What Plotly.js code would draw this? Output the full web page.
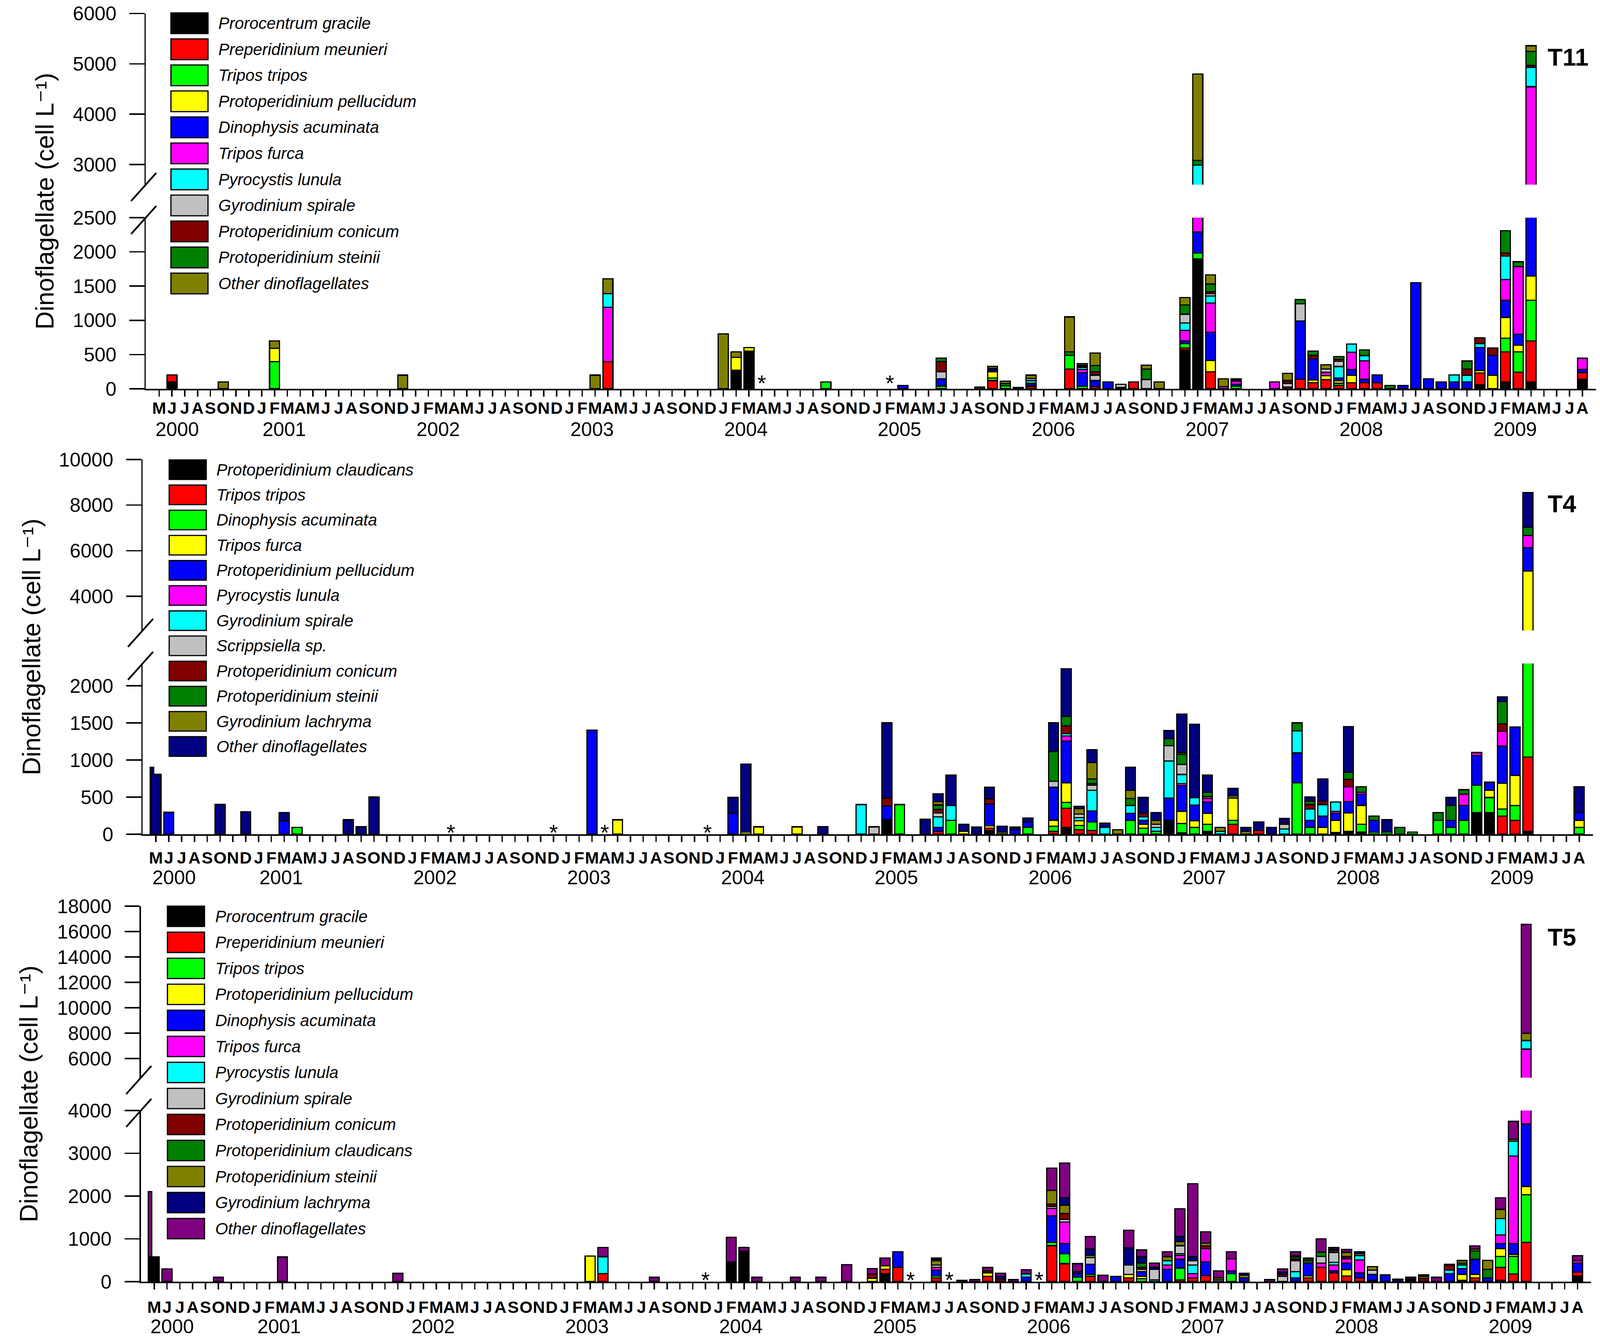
<!DOCTYPE html>
<html>
<head>
<meta charset="utf-8">
<script src="https://cdn.plot.ly/plotly-3.0.1.min.js"></script>
<style>
html,body{margin:0;padding:0;background:#ffffff;overflow:hidden;}
#chart{position:absolute;left:0;top:0;}
</style>
</head>
<body>
<div id="chart"></div>
<script>
// ---------------- DATA ----------------
// month index 0 = May 2000 ... 111 = Aug 2009
const monthInitials = ['J','F','M','A','M','J','J','A','S','O','N','D'];
const firstMonth = 4; // May
const monthCount = 112;
const yearLabels = ['2000','2001','2002','2003','2004','2005','2006','2007','2008','2009'];

// ---- T11 ----
const t11Species = ['Prorocentrum gracile','Preperidinium meunieri','Tripos tripos','Protoperidinium pellucidum','Dinophysis acuminata','Tripos furca','Pyrocystis lunula','Gyrodinium spirale','Protoperidinium conicum','Protoperidinium steinii','Other dinoflagellates'];
const t11Months = [1,5,9,19,34,35,44,45,46,52, 58,61,64,65,66,67,68,71,72,73, 74,75,76,77,78,80,81,82,83,84, 87,88,89,90,91,92,93,94,95,96, 97,98,99,100,101,102,103,104,105,106, 107,111];
const t11Gracile   = [100,0,0,0,0,0,0,270,550,0, 0,0,0,0,0,0,0,0,0,0, 0,0,0,0,0,565,1895,0,0,0, 0,0,0,0,0,0,0,0,0,0, 0,0,0,0,0,0,60,0,100,0, 100,140];
const t11Meunieri  = [105,0,0,0,0,395,0,0,0,0, 0,0,0,120,0,0,30,290,0,30, 0,0,100,0,0,30,0,250,0,0, 0,25,140,90,135,50,90,90,90,0, 0,0,0,0,0,0,170,0,440,245, 600,95];
const t11Tripos    = [0,0,395,0,0,0,0,0,0,100, 0,40,0,35,45,0,0,200,35,0, 0,0,0,0,0,65,90,0,0,35, 0,0,0,0,0,30,0,0,0,0, 0,0,0,0,0,0,0,0,200,295, 595,0];
const t11Pellucidum= [0,0,195,0,0,0,0,190,50,0, 0,0,0,95,0,0,20,0,0,0, 0,0,0,0,0,0,0,165,0,0, 0,0,0,40,55,35,105,0,0,0, 0,0,0,0,0,0,35,195,300,95, 350,0];
const t11Dinophysis= [0,0,0,0,0,0,0,0,0,0, 50,105,0,30,0,0,30,0,200,90, 100,0,0,0,0,40,305,410,0,30, 0,0,850,305,0,40,90,50,115,0, 50,1550,145,100,100,100,335,295,250,160, 905,50];
const t11Furca     = [0,0,0,0,0,795,0,0,0,0, 0,0,0,0,0,0,0,0,50,0, 0,0,0,0,0,155,260,430,30,45, 100,0,0,0,50,0,250,270,0,0, 0,0,0,0,0,0,0,0,305,990, 1995,160];
const t11Lunula    = [0,0,0,0,0,200,0,0,0,0, 0,0,0,0,0,0,40,0,25,0, 0,20,0,0,0,105,435,100,0,0, 0,0,0,0,0,170,120,75,0,0, 0,0,0,0,105,95,60,0,345,0, 385,0];
const t11Spirale   = [0,0,0,0,0,0,0,0,0,0, 0,105,0,0,0,0,30,0,15,80, 0,45,0,135,0,130,0,35,0,20, 0,55,250,0,50,75,0,0,0,0, 0,0,0,0,0,0,0,0,0,0, 0,0];
const t11Conicum   = [0,0,0,0,0,0,0,0,0,0, 0,145,0,20,0,0,0,0,10,50, 0,0,0,0,0,0,0,30,0,0, 0,40,0,50,0,30,0,0,0,0, 0,0,0,0,0,95,85,105,45,0, 40,0];
const t11Steinii   = [0,0,0,0,0,0,0,0,0,0, 0,55,0,0,30,0,0,50,10,90, 0,0,0,155,0,135,95,110,0,0, 0,0,65,65,0,40,0,85,0,50, 0,0,0,0,0,115,0,0,325,70, 275,0];
const t11Other     = [0,100,110,200,200,215,800,80,0,0, 0,0,25,30,35,20,50,510,25,180, 0,0,0,55,100,110,1720,135,115,15, 0,105,0,0,60,0,0,0,0,0, 0,0,0,0,0,0,0,0,0,0, 115,0];
const t11Missing = [47,57];

// ---- T4 ----
const t4Species = ['Protoperidinium claudicans','Tripos tripos','Dinophysis acuminata','Tripos furca','Protoperidinium pellucidum','Pyrocystis lunula','Gyrodinium spirale','Scrippsiella sp.','Protoperidinium conicum','Protoperidinium steinii','Gyrodinium lachryma','Other dinoflagellates'];
const t4Months = [0,1,5,7,10,11,15,16,17,34, 36,45,46,47,50,52,55,56,57,58, 60,61,62,63,64,65,66,67,68,70, 71,72,73,74,75,76,77,78,79,80, 81,82,83,84,85,86,87,88,89,90, 91,92,93,94,95,96,97,98,100,101, 102,103,104,105,106,107,111];
const t4Claudicans = [0,0,0,0,0,0,0,0,0,0, 0,0,0,0,0,0,0,0,195,0, 0,0,0,0,0,50,0,0,0,0, 90,0,0,0,0,0,0,0,185,0, 0,40,0,0,0,0,0,0,0,0, 0,25,40,30,0,0,0,0,0,0, 0,290,290,0,0,40,0];
const t4Tripos     = [0,0,0,0,0,0,0,0,0,0, 0,0,0,0,0,0,0,0,0,0, 0,40,0,0,0,30,0,0,0,40, 260,60,50,0,0,0,0,0,0,20, 0,0,0,135,0,50,0,0,0,0, 0,0,0,0,0,0,0,0,0,0, 0,0,0,245,185,1000,0];
const t4Dinophysis = [0,0,0,0,0,90,0,0,0,0, 0,0,0,0,0,0,0,0,0,400, 0,0,185,0,0,0,0,0,90,70, 80,60,115,0,0,185,80,40,0,125, 90,95,0,50,0,0,0,0,690,90, 0,0,0,105,30,30,0,30,185,90, 185,370,205,95,200,1360,90];
const t4Furca      = [0,0,0,0,0,0,0,0,0,0, 195,0,30,100,100,0,0,0,0,0, 0,0,0,40,0,35,0,0,0,75, 260,60,0,0,0,0,55,0,0,165, 90,145,0,300,0,0,0,0,0,0, 90,160,245,250,0,0,0,0,0,0, 0,0,95,345,405,2700,95];
const t4Pellucidum = [0,295,0,0,180,0,0,0,0,1400, 0,280,0,0,0,0,0,0,185,0, 0,50,0,0,0,290,0,60,75,450, 565,0,150,0,0,95,50,0,300,345, 210,155,0,0,0,0,0,0,405,95, 155,95,155,155,155,0,0,0,0,95, 200,400,110,500,655,1030,105];
const t4Lunula     = [0,0,0,0,0,0,0,0,0,0, 0,0,0,0,0,0,0,0,0,0, 0,0,0,0,0,0,0,0,0,0, 70,0,0,0,0,0,0,0,0,25, 0,45,0,0,0,0,0,0,0,0, 0,30,200,25,0,0,0,0,0,0, 155,40,0,200,0,540,0];
const t4Spirale    = [0,0,0,0,0,0,0,0,0,0, 0,0,0,0,0,0,400,0,0,0, 0,145,200,0,0,0,0,0,0,0, 30,45,275,90,0,105,50,50,500,125, 100,0,40,0,0,0,0,70,295,155, 155,125,0,0,0,0,0,0,0,0, 0,0,0,0,0,0,0];
const t4Scrippsiella=[0,0,0,0,0,0,0,0,0,0, 0,0,0,0,0,0,0,100,0,0, 0,50,0,0,0,0,0,0,0,80, 0,45,70,0,0,0,0,45,205,135, 0,25,0,0,0,0,0,65,0,0, 0,0,0,0,0,0,0,0,0,0, 0,0,0,0,0,0,0];
const t4Conicum    = [0,0,0,0,0,0,0,0,0,0, 0,0,0,0,0,0,0,0,105,0, 0,50,0,0,0,70,0,0,0,0, 105,0,20,0,0,0,45,0,0,0, 0,0,0,0,0,0,0,20,0,60, 45,0,100,0,0,0,0,0,0,0, 0,0,0,100,0,0,0];
const t4Steinii    = [0,0,0,0,0,0,0,0,0,0, 0,0,0,0,0,0,0,0,0,0, 0,60,0,0,0,0,0,0,0,400, 125,0,65,0,0,95,0,0,95,135, 0,60,0,0,0,0,0,0,110,45, 0,0,95,75,60,0,90,0,105,200, 60,0,0,300,0,350,0];
const t4Lachryma   = [0,0,0,0,0,0,0,0,0,0, 0,0,0,0,0,0,0,0,0,0, 0,45,0,0,0,0,30,0,0,0, 0,75,220,0,60,110,0,50,0,25, 0,0,50,35,40,0,0,0,0,0, 0,0,0,0,0,0,0,0,0,0, 0,0,0,0,0,0,0];
const t4Other      = [805,0,400,300,110,0,195,100,500,0, 0,215,915,0,0,100,0,0,1015,0, 200,105,410,95,95,160,80,35,55,385, 645,30,175,60,0,310,215,105,110,520, 990,230,0,100,50,115,90,60,0,55, 300,0,615,0,0,165,0,0,0,110, 0,0,0,65,0,1535,350];
const t4Missing = [23,31,35,43];
// an earlier (narrow) sample drawn just left of May 2000
const t4EarlyMonth = [-0.31];
const t4EarlyOther = [900];

// ---- T5 ----
const t5Species = ['Prorocentrum gracile','Preperidinium meunieri','Tripos tripos','Protoperidinium pellucidum','Dinophysis acuminata','Tripos furca','Pyrocystis lunula','Gyrodinium spirale','Protoperidinium conicum','Protoperidinium claudicans','Protoperidinium steinii','Gyrodinium lachryma','Other dinoflagellates'];
const t5Months = [0,1,5,10,19,34,35,39,45,46, 47,50,52,54,56,57,58,61,63,64, 65,66,67,68,70,71,72,73,74,75, 76,77,78,79,80,81,82,83,84,85, 87,88,89,90,91,92,93,94,95,96, 97,98,99,100,101,102,103,104,105,106, 107,111];
const t5Gracile    = [575,0,0,0,0,0,0,0,465,690, 0,0,0,0,0,185,0,0,0,0, 0,0,0,0,0,0,0,0,0,0, 0,0,0,0,0,0,0,0,0,0, 0,0,0,0,0,0,0,0,30,0, 0,0,0,0,0,35,0,0,35,0, 0,135];
const t5Meunieri   = [0,0,0,0,0,0,185,0,0,0, 0,0,0,0,0,100,335,85,0,0, 120,0,0,0,840,420,0,120,0,0, 85,0,0,0,40,85,140,0,0,0, 0,0,0,85,335,205,135,85,0,0, 0,0,0,0,0,0,85,0,300,175, 920,85];
const t5Tripos     = [0,0,0,0,0,0,0,0,0,0, 0,0,0,0,0,0,0,45,0,0, 0,0,0,0,80,235,105,45,0,0, 0,65,0,0,280,0,0,0,185,0, 0,0,0,0,0,0,0,0,0,0, 0,0,0,0,0,0,0,0,255,415, 1115,0];
const t5Pellucidum = [0,0,0,0,0,600,0,0,0,0, 0,0,0,0,80,85,0,0,0,0, 85,0,0,0,0,0,0,0,0,0, 80,55,0,0,0,0,0,0,0,0, 0,0,0,45,0,0,140,0,0,0, 0,0,0,0,0,135,80,0,185,45, 185,0];
const t5Dinophysis = [0,0,0,0,0,0,0,0,0,0, 0,0,0,0,0,0,365,140,0,0, 0,0,0,105,615,235,80,240,0,120, 0,115,0,285,200,0,325,0,65,85, 0,0,85,300,0,45,160,120,140,155, 0,0,0,0,185,135,355,85,115,255, 1460,215];
const t5Furca      = [0,0,0,0,0,0,0,0,0,30, 0,0,0,0,0,0,0,60,0,0, 0,0,0,0,175,500,0,0,0,0, 0,0,0,100,100,100,310,0,285,0, 0,0,0,0,100,135,100,300,0,0, 0,0,0,0,0,0,0,0,200,2050, 3065,55];
const t5Lunula     = [0,0,0,0,0,0,400,0,0,0, 0,0,0,0,0,0,0,0,0,0, 0,0,0,70,0,0,0,0,0,0, 0,0,40,100,35,200,0,0,0,0, 0,0,145,0,0,65,0,100,0,0, 0,30,0,0,85,85,0,0,385,340, 675,0];
const t5Spirale    = [0,0,0,0,0,0,0,0,0,0, 0,0,0,0,0,0,0,55,0,0, 0,0,0,0,45,65,0,160,0,0, 220,55,245,0,185,100,0,45,0,0, 0,120,255,0,155,235,0,0,100,0, 0,0,0,0,0,0,0,0,0,0, 0,0];
const t5Conicum    = [0,0,0,0,0,0,0,0,0,0, 0,0,0,0,100,0,0,0,0,0, 45,60,0,0,55,135,0,0,0,0, 0,45,0,0,0,0,60,0,0,0, 0,45,45,0,0,0,50,0,0,0, 0,0,80,0,115,0,0,0,0,0, 0,0];
const t5Claudicans = [0,0,0,0,0,0,0,0,0,0, 0,0,0,0,0,0,0,0,0,0, 0,0,0,0,0,0,0,0,0,0, 0,100,0,0,0,0,0,0,0,0, 0,0,55,55,100,0,0,0,0,0, 0,0,0,0,0,45,200,200,0,0, 0,0];
const t5Steinii    = [0,0,0,0,0,0,0,0,0,0, 0,0,0,0,0,0,0,100,0,0, 0,0,0,0,325,200,0,55,0,0, 0,0,0,100,100,0,65,40,0,65, 0,0,0,45,0,45,100,50,85,0, 0,0,40,0,0,50,45,215,215,45, 560,0];
const t5Lachryma   = [0,0,0,0,0,0,0,0,0,0, 0,0,0,0,0,0,0,45,0,0, 0,60,0,0,0,165,50,145,0,0, 400,150,50,0,115,100,0,0,0,50, 0,55,20,0,0,35,0,45,0,0, 55,30,35,0,0,0,0,0,0,0, 0,0];
const t5Other      = [0,300,100,575,200,0,215,100,570,80, 100,100,100,400,125,180,0,20,30,50, 85,80,50,100,520,815,185,290,150,0, 415,155,100,115,645,1705,265,170,165,0, 50,80,95,20,310,35,70,0,0,0, 0,40,0,100,20,15,70,0,265,420, 8600,120];
const t5Missing = [43,59,62,69];
const t5EarlyMonth = [-0.33];
const t5EarlyOther = [2100];

// ---------------- STYLE / LAYOUT ----------------
// geometry is expressed in the 4577 x 3437 reference frame and fitted to the viewport
const REF_W = 4577, REF_H = 3437;
const W = window.innerWidth || REF_W;
const H = window.innerHeight || REF_H;
const S = Math.min(W / REF_W, H / REF_H);
const z = v => v * S;
const FONT = 'Liberation Sans, Arial, Helvetica, DejaVu Sans, sans-serif';
const PAL = ['#000000','#FF0000','#00FF00','#FFFF00','#0000FF','#FF00FF','#00FFFF','#C0C0C0','#800000','#008000','#808000','#000080','#800080'];
const pxX = v => v / REF_W;
const pxY = v => 1 - v / REF_H;
const X_SPAN = 4148.5;
const X_RANGE = [-1.04, 112.06];
const BAR_LINE = 3.5;
const Y_TITLE = 'Dinoflagellate (cell L\u207B\u00B9)';

const panels = [
  { label:'T11', species:t11Species, colors:PAL.slice(0,11),
    months:t11Months,
    values:[t11Gracile,t11Meunieri,t11Tripos,t11Pellucidum,t11Dinophysis,t11Furca,t11Lunula,t11Spirale,t11Conicum,t11Steinii,t11Other],
    missing:t11Missing, early:null, starShift:-22,
    xL:417, lowPx:[995,557], lowRange:[0,2500], lowDtick:500,
    upPx:[472.5,34.5], upRange:[2600,6000], upDtick:1000,
    monthStandoff:-8, yearPy:1099, titleX:128, labelPy:146,
    legL:489, legTextL:622, legTop:33, legStep:66.6, legH:53 },
  { label:'T4', species:t4Species, colors:PAL.slice(0,12),
    months:t4Months,
    values:[t4Claudicans,t4Tripos,t4Dinophysis,t4Furca,t4Pellucidum,t4Lunula,t4Spirale,t4Scrippsiella,t4Conicum,t4Steinii,t4Lachryma,t4Other],
    missing:t4Missing, early:{x:t4EarlyMonth, y:t4EarlyOther, color:'#000080'}, starShift:-34,
    xL:408, lowPx:[2135,1698], lowRange:[0,2300], lowDtick:500,
    upPx:[1613.5,1176], upRange:[2500,10000], upDtick:2000,
    monthStandoff:5, yearPy:2246, titleX:90, labelPy:1289,
    legL:484, legTextL:617, legTop:1177, legStep:64.4, legH:50 },
  { label:'T5', species:t5Species, colors:PAL,
    months:t5Months,
    values:[t5Gracile,t5Meunieri,t5Tripos,t5Pellucidum,t5Dinophysis,t5Furca,t5Lunula,t5Spirale,t5Conicum,t5Claudicans,t5Steinii,t5Lachryma,t5Other],
    missing:t5Missing, early:{x:t5EarlyMonth, y:t5EarlyOther, color:'#800080'}, starShift:-34,
    xL:403, lowPx:[3280,2842], lowRange:[0,4000], lowDtick:1000,
    upPx:[2758,2319], upRange:[4500,18000], upDtick:2000,
    monthStandoff:10, yearPy:3395, titleX:82, labelPy:2398,
    legL:479, legTextL:613, legTop:2319, legStep:66.6, legH:52 }
];

const tickIdx = [];
const tickText = [];
for (let i = 0; i < monthCount; i++) { tickIdx.push(i); tickText.push(monthInitials[(i + firstMonth) % 12]); }
const yearPos = yearLabels.map(y => Math.max((Number(y) - 2000) * 12 - firstMonth, -0.35) + 1.75);

const traces = [];
const layout = {
  width: W, height: H, margin: {l:0, r:0, t:0, b:0, pad:0},
  paper_bgcolor: '#ffffff', plot_bgcolor: 'rgba(0,0,0,0)',
  barmode: 'stack', showlegend: false,
  font: {family: FONT, color: '#000000'},
  shapes: [], annotations: []
};

panels.forEach((p, k) => {
  const xa = k === 0 ? 'x' : 'x' + (k + 1);
  const ylo = k === 0 ? 'y' : 'y' + (2 * k + 1);
  const yup = 'y' + (2 * k + 2);
  const xKey = k === 0 ? 'xaxis' : 'xaxis' + (k + 1);
  const yloKey = k === 0 ? 'yaxis' : 'yaxis' + (2 * k + 1);
  const yupKey = 'yaxis' + (2 * k + 2);

  if (p.early) {
    [ylo, yup].forEach(ya => traces.push({
      type:'bar', x:p.early.x, y:p.early.y, xaxis:xa, yaxis:ya, width:0.28,
      marker:{color:p.early.color, line:{color:'#000000', width:z(BAR_LINE)}}, hoverinfo:'skip'
    }));
  }
  p.values.forEach((vals, s) => {
    const yv = vals.map(v => v === 0 ? null : v);
    [ylo, yup].forEach(ya => traces.push({
      type:'bar', x:p.months, y:yv, xaxis:xa, yaxis:ya, width:0.78, name:p.species[s],
      marker:{color:p.colors[s], line:{color:'#000000', width:z(BAR_LINE)}}, hoverinfo:'skip'
    }));
  });

  layout[xKey] = {
    type:'linear', domain:[pxX(p.xL), pxX(p.xL + X_SPAN)], range:X_RANGE, anchor:ylo,
    showline:true, linewidth:z(4), linecolor:'#000000',
    ticks:'outside', ticklen:z(18), tickwidth:z(4), tickcolor:'#000000',
    tickmode:'array', tickvals:tickIdx, ticktext:tickText, tickangle:0,
    tickfont:{family:FONT, size:z(48), weight:'bold', color:'#000000'},
    ticklabelstandoff:Math.round(z(p.monthStandoff)),
    showgrid:false, zeroline:false, fixedrange:true
  };
  const yCommon = {
    type:'linear', anchor:xa, showline:true, linewidth:z(4), linecolor:'#000000',
    ticks:'outside', ticklen:z(43), tickwidth:z(4), tickcolor:'#000000',
    tick0:0, tickformat:'d', tickfont:{family:FONT, size:z(56), color:'#000000'},
    ticklabelstandoff:Math.round(z(26)), showgrid:false, zeroline:false, fixedrange:true
  };
  layout[yloKey] = Object.assign({}, yCommon, {domain:[pxY(p.lowPx[0]), pxY(p.lowPx[1])], range:p.lowRange, dtick:p.lowDtick});
  layout[yupKey] = Object.assign({}, yCommon, {domain:[pxY(p.upPx[0]), pxY(p.upPx[1])], range:p.upRange, dtick:p.upDtick});

  // axis break marks
  [p.upPx[0], p.lowPx[1]].forEach(edge => layout.shapes.push({
    type:'line', xref:'paper', yref:'paper',
    x0:pxX(p.xL - 42), y0:pxY(edge + 42), x1:pxX(p.xL + 30), y1:pxY(edge - 30),
    line:{color:'#000000', width:z(5)}
  }));

  // legend
  p.species.forEach((name, s) => {
    const top = p.legTop + s * p.legStep;
    layout.shapes.push({
      type:'rect', xref:'paper', yref:'paper',
      x0:pxX(p.legL), x1:pxX(p.legL + 106), y0:pxY(top + p.legH), y1:pxY(top),
      fillcolor:p.colors[s], line:{color:'#000000', width:z(3.5)}
    });
    layout.annotations.push({
      xref:'paper', yref:'paper', x:pxX(p.legTextL), y:pxY(top + p.legH / 2),
      xanchor:'left', yanchor:'middle', showarrow:false, text:name,
      font:{family:FONT, size:z(47), style:'italic', color:'#000000'}
    });
  });

  // year labels
  yearLabels.forEach((yl, j) => layout.annotations.push({
    xref:xa, yref:'paper', x:yearPos[j], y:pxY(p.yearPy), xanchor:'center', yanchor:'middle',
    showarrow:false, text:yl, font:{family:FONT, size:z(56), color:'#000000'}
  }));

  // missing samples
  p.missing.forEach(m => layout.annotations.push({
    xref:xa, yref:ylo, x:m, y:0, xanchor:'center', yanchor:'bottom', yshift:z(p.starShift),
    showarrow:false, text:'*', font:{family:FONT, size:z(64), color:'#000000'}
  }));

  // y title
  layout.annotations.push({
    xref:'paper', yref:'paper', x:pxX(p.titleX), y:pxY((p.lowPx[0] + p.upPx[1]) / 2),
    xanchor:'center', yanchor:'middle', textangle:-90, showarrow:false,
    text:Y_TITLE, font:{family:FONT, size:z(72), color:'#000000'}
  });

  // panel label
  layout.annotations.push({
    xref:'paper', yref:'paper', x:pxX(4425), y:pxY(p.labelPy), xanchor:'left', yanchor:'middle',
    showarrow:false, text:'<b>' + p.label + '</b>', font:{family:FONT, size:z(70), color:'#000000'}
  });
});

document.getElementById('chart').style.width = W + 'px';
document.getElementById('chart').style.height = H + 'px';
Plotly.newPlot('chart', traces, layout, {staticPlot:true, displayModeBar:false});
</script>
</body>
</html>
